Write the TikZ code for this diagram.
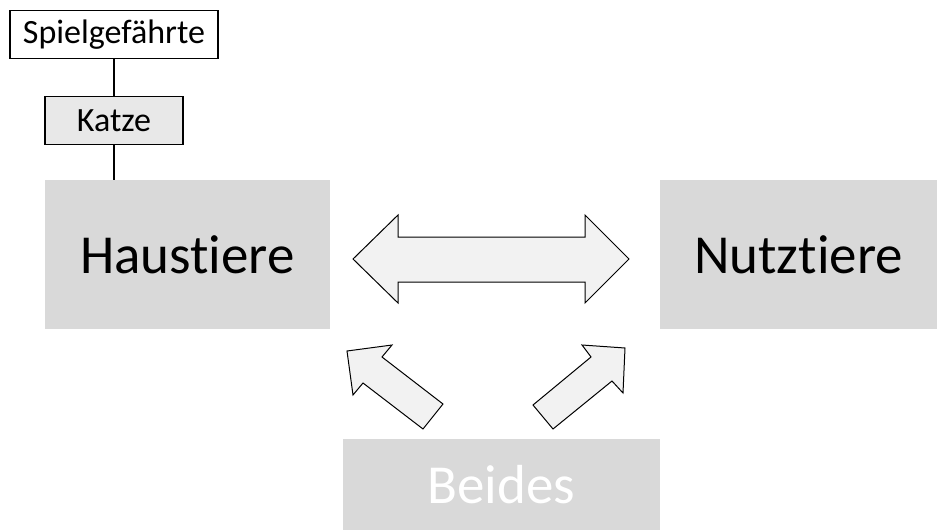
\documentclass[tikz,border=0pt]{standalone}
\usepackage{fontspec}
\setmainfont{Carlito}[Ligatures=NoCommon,RawFeature=-liga]
\usetikzlibrary{positioning}
\definecolor{boxgray}{HTML}{D9D9D9}
\definecolor{arrowfill}{HTML}{F2F2F2}
\definecolor{katzefill}{HTML}{E8E8E8}

\begin{document}
\begin{tikzpicture}[x=1pt,y=-1pt,
    bigbox/.style={fill=boxgray, inner sep=0pt, minimum height=149pt, font=\fontsize{55}{60}\selectfont},
    smallbox/.style={draw, line width=1.3pt, inner sep=0pt, minimum height=48pt, font=\fontsize{34}{38}\selectfont},
    blockarrow/.style={draw, line width=1pt, fill=arrowfill, line join=miter}]
    \useasboundingbox (0,0) rectangle (937,530);

    % Haustiere, Nutztiere, Beides
    \node[bigbox, minimum width=285pt] (haus) at (187.5,254.5) {Haustiere};
    \node[bigbox, minimum width=277pt] (nutz) at (798.5,254.5) {Nutztiere};
    \node[bigbox, minimum width=317pt, minimum height=91pt, text=white] (beides) at (501.5,484.5) {Beides};

    % Spielgefaehrte and Katze
    \node[smallbox, minimum width=208pt] (spiel) at (114,34.5) {Spielgefährte};
    \node[smallbox, minimum width=138pt, fill=katzefill] (katze) at (114,120.5) {Katze};
    \draw[line width=2.2pt] (spiel) -- (katze);
    \draw[line width=2.2pt] (katze.south) -- (katze.south |- haus.north);

    % double arrow
    \draw[blockarrow] (353,259) -- (398,215) -- (398,237) -- (585,237) -- (585,215)
        -- (629,259) -- (585,303) -- (585,282) -- (398,282) -- (398,303) -- cycle;

    % arrows from Beides
    \draw[blockarrow] (347,351) -- (392,345) -- (382,357) -- (443,404) -- (423,429)
        -- (363,383) -- (353,395) -- cycle;
    \draw[blockarrow] (625,348) -- (582,345) -- (591,357) -- (533,405) -- (553,429)
        -- (612,381) -- (623,393) -- cycle;
\end{tikzpicture}
\end{document}
